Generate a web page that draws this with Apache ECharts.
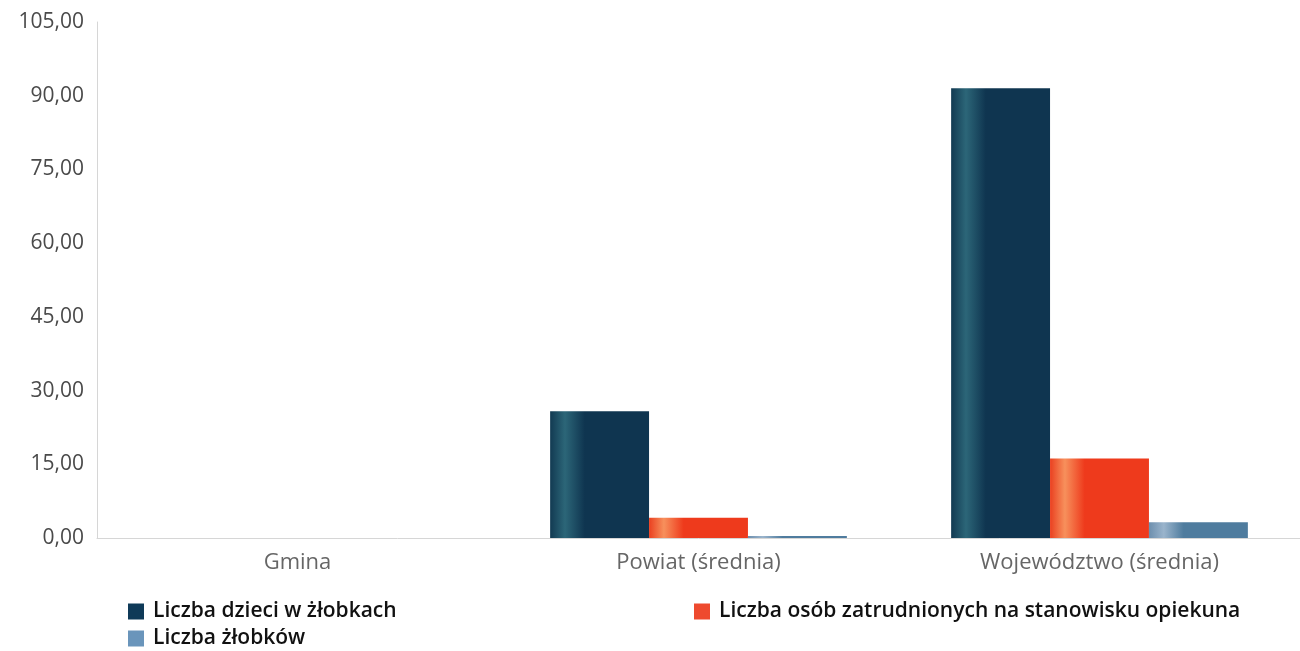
<!DOCTYPE html>
<html><head><meta charset="utf-8">
<script src="https://cdn.jsdelivr.net/npm/echarts@6/dist/echarts.min.js"></script>
<style>html,body{margin:0;padding:0;background:#fff}#c{width:1300px;height:651px}</style>
</head><body><div id="c"></div>
<script>
const categories = ['Gmina', 'Powiat (średnia)', 'Województwo (średnia)'];
const seriesNames = ['Liczba dzieci w żłobkach', 'Liczba osób zatrudnionych na stanowisku opiekuna', 'Liczba żłobków'];
const dzieci = [0, 25.8, 91.5];
const opiekunowie = [0, 4.1, 16.2];
const zlobki = [0, 0.4, 3.2];
const yTicks = [0, 15, 30, 45, 60, 75, 90, 105];

function grad(edge, light, mid) {
  return new echarts.graphic.LinearGradient(0, 0, 1, 0, [
    {offset: 0, color: edge}, {offset: 0.15, color: light}, {offset: 0.35, color: mid}, {offset: 1, color: mid}
  ]);
}
const colors = [grad('#123a52', '#2c6678', '#0f3550'), grad('#ea4020', '#f7905c', '#ee3a1c'), grad('#6d8fae', '#9ab4cc', '#4f7c9e')];
const legendColors = ['#0f3a58', '#ee4a2e', '#6a95bb'];
const font = '"Open Sans", "Noto Sans", sans-serif';
const chart = echarts.init(document.getElementById('c'));
const data = [dzieci, opiekunowie, zlobki];
const legendText = {fontFamily: font, fontSize: 21, color: '#111', fontWeight: 600, padding: [0, 0, 0, 4]};
chart.setOption({
  animation: false,
  textStyle: {fontFamily: font},
  grid: {left: 97, width: 1212, top: 22, bottom: 113, containLabel: false},
  legend: [
    {left: 128, top: 601, height: 60, padding: 0, orient: 'vertical', itemGap: 6, itemWidth: 16, itemHeight: 16, icon: 'rect',
     data: [{name: seriesNames[0], itemStyle: {color: legendColors[0]}}, {name: seriesNames[2], itemStyle: {color: legendColors[2]}}],
     textStyle: legendText},
    {left: 694, top: 601, height: 60, padding: 0, orient: 'vertical', itemWidth: 16, itemHeight: 16, icon: 'rect',
     data: [{name: seriesNames[1], itemStyle: {color: legendColors[1]}}],
     textStyle: legendText}
  ],
  xAxis: {type: 'category', data: categories,
    axisLine: {lineStyle: {color: '#d6d6d6'}}, axisTick: {show: false},
    axisLabel: {color: '#666', fontSize: 22, margin: 14, fontFamily: font}},
  yAxis: {type: 'value', min: 0, max: 105, interval: 15,
    axisLine: {show: true, lineStyle: {color: '#d6d6d6'}}, axisTick: {show: false}, splitLine: {show: false},
    axisLabel: {color: '#4a4a4a', fontSize: 21, margin: 13, fontFamily: font,
      formatter: v => yTicks.includes(v) ? v.toFixed(2).replace('.', ',') : ''}},
  series: data.map((d, i) => ({
    name: seriesNames[i], type: 'bar', data: d, barGap: '0%', barCategoryGap: '26%',
    itemStyle: {color: colors[i]}
  }))
});
</script></body></html>
